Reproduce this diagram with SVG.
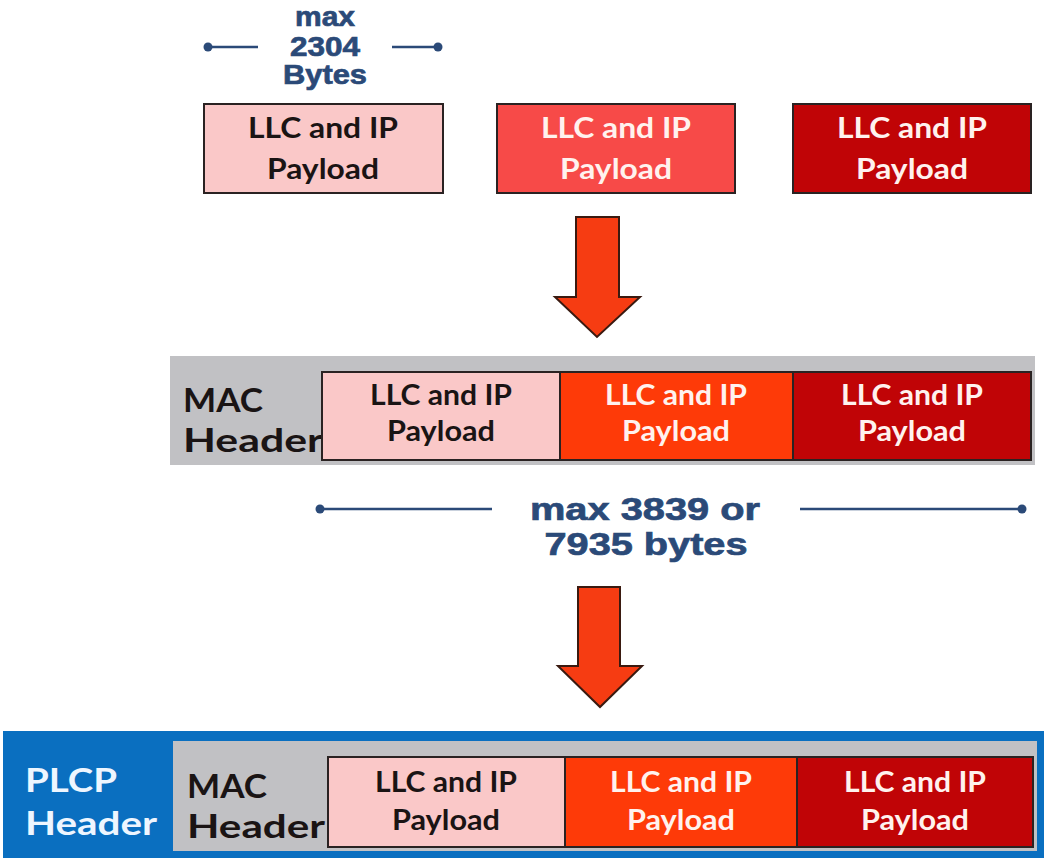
<svg xmlns="http://www.w3.org/2000/svg" width="1044" height="858" viewBox="0 0 1044 858">
<defs>
<style>
.pay{stroke:#2a2222;stroke-width:2}
.pink{fill:#fac8c8}
.salmon{fill:#f74a48}
.orange{fill:#fe3a08}
.dred{fill:#c00406}
.bt{font-family:Lato,"Liberation Sans",sans-serif;font-weight:700;font-size:29px;text-anchor:middle}
.dk{fill:#1a1414}
.wt{fill:#fff2ee}
.hd{font-family:Lato,"Liberation Sans",sans-serif;font-weight:700;font-size:33px}
.lbl{font-family:"Liberation Sans",Arial,sans-serif;font-weight:700;fill:#2b4a78;stroke:#2b4a78;stroke-width:0.7;text-anchor:middle}
.dim{stroke:#2b4a78;stroke-width:2.5;fill:none}
.dot{fill:#2b4a78}
.arrow{fill:#f63c12;stroke:#3a1a10;stroke-width:2;stroke-linejoin:miter}
</style>
</defs>
<rect width="1044" height="858" fill="#ffffff"/>

<g id="label-2304">
<line class="dim" x1="208" y1="47" x2="258" y2="47"/>
<line class="dim" x1="392" y1="47" x2="438" y2="47"/>
<circle class="dot" cx="208" cy="47" r="4.5"/>
<circle class="dot" cx="438" cy="47" r="4.5"/>
<text class="lbl" font-size="28" x="325" y="26" textLength="60" lengthAdjust="spacingAndGlyphs">max</text>
<text class="lbl" font-size="28" x="325" y="56" textLength="70" lengthAdjust="spacingAndGlyphs">2304</text>
<text class="lbl" font-size="28" x="325" y="84" textLength="84" lengthAdjust="spacingAndGlyphs">Bytes</text>
</g>

<g id="top-payload-1">
<rect class="pay pink" x="204" y="104" width="239" height="89"/>
<text class="bt dk" x="323" y="138" textLength="150" lengthAdjust="spacingAndGlyphs">LLC and IP</text>
<text class="bt dk" x="323" y="179" textLength="112" lengthAdjust="spacingAndGlyphs">Payload</text>
</g>
<g id="top-payload-2">
<rect class="pay salmon" x="497" y="104" width="238" height="89"/>
<text class="bt wt" x="616" y="138" textLength="150" lengthAdjust="spacingAndGlyphs">LLC and IP</text>
<text class="bt wt" x="616" y="179" textLength="112" lengthAdjust="spacingAndGlyphs">Payload</text>
</g>
<g id="top-payload-3">
<rect class="pay dred" x="793" y="104" width="238" height="89"/>
<text class="bt wt" x="912" y="138" textLength="150" lengthAdjust="spacingAndGlyphs">LLC and IP</text>
<text class="bt wt" x="912" y="179" textLength="112" lengthAdjust="spacingAndGlyphs">Payload</text>
</g>

<g id="connectors">
<polygon class="arrow" points="576,217 619,217 619,297 640,297 597,337 555,297 576,297"/>
<polygon class="arrow" points="578,587 620,587 620,666 642,666 600,707 558,666 578,666"/>
</g>

<g id="mac-frame">
<rect x="170" y="356" width="865" height="109" fill="#c1c1c4"/>
<text class="hd dk" x="183" y="412" textLength="80" lengthAdjust="spacingAndGlyphs">MAC</text>
<text class="hd dk" x="183" y="452" textLength="140" lengthAdjust="spacingAndGlyphs">Header</text>
<rect class="pay pink" x="322" y="372" width="238" height="88"/>
<text class="bt dk" x="441" y="405" textLength="142" lengthAdjust="spacingAndGlyphs">LLC and IP</text>
<text class="bt dk" x="441" y="441" textLength="108" lengthAdjust="spacingAndGlyphs">Payload</text>
<rect class="pay orange" x="560" y="372" width="233" height="88"/>
<text class="bt wt" x="676" y="405" textLength="142" lengthAdjust="spacingAndGlyphs">LLC and IP</text>
<text class="bt wt" x="676" y="441" textLength="108" lengthAdjust="spacingAndGlyphs">Payload</text>
<rect class="pay dred" x="793" y="372" width="238" height="88"/>
<text class="bt wt" x="912" y="405" textLength="142" lengthAdjust="spacingAndGlyphs">LLC and IP</text>
<text class="bt wt" x="912" y="441" textLength="108" lengthAdjust="spacingAndGlyphs">Payload</text>
</g>

<g id="label-3839">
<line class="dim" x1="320" y1="509" x2="492" y2="509"/>
<line class="dim" x1="800" y1="509" x2="1022" y2="509"/>
<circle class="dot" cx="320" cy="509" r="4.5"/>
<circle class="dot" cx="1022" cy="509" r="4.5"/>
<text class="lbl" font-size="31" x="645" y="520" textLength="230" lengthAdjust="spacingAndGlyphs">max 3839 or</text>
<text class="lbl" font-size="31" x="646" y="555" textLength="203" lengthAdjust="spacingAndGlyphs">7935 bytes</text>
</g>

<g id="plcp-frame">
<rect x="3" y="731" width="1041" height="127" fill="#0a6fc0"/>
<text class="hd" fill="#eef6ff" x="25" y="792" textLength="92" lengthAdjust="spacingAndGlyphs">PLCP</text>
<text class="hd" fill="#eef6ff" x="25" y="835" textLength="132" lengthAdjust="spacingAndGlyphs">Header</text>
<rect x="173" y="741" width="864" height="110" fill="#c1c1c4"/>
<text class="hd dk" x="187" y="798" textLength="80" lengthAdjust="spacingAndGlyphs">MAC</text>
<text class="hd dk" x="187" y="838" textLength="138" lengthAdjust="spacingAndGlyphs">Header</text>
<rect class="pay pink" x="328" y="757" width="237" height="90"/>
<text class="bt dk" x="446" y="792" textLength="142" lengthAdjust="spacingAndGlyphs">LLC and IP</text>
<text class="bt dk" x="446" y="830" textLength="108" lengthAdjust="spacingAndGlyphs">Payload</text>
<rect class="pay orange" x="565" y="757" width="232" height="90"/>
<text class="bt wt" x="681" y="792" textLength="142" lengthAdjust="spacingAndGlyphs">LLC and IP</text>
<text class="bt wt" x="681" y="830" textLength="108" lengthAdjust="spacingAndGlyphs">Payload</text>
<rect class="pay dred" x="797" y="757" width="236" height="90"/>
<text class="bt wt" x="915" y="792" textLength="142" lengthAdjust="spacingAndGlyphs">LLC and IP</text>
<text class="bt wt" x="915" y="830" textLength="108" lengthAdjust="spacingAndGlyphs">Payload</text>
</g>
</svg>
